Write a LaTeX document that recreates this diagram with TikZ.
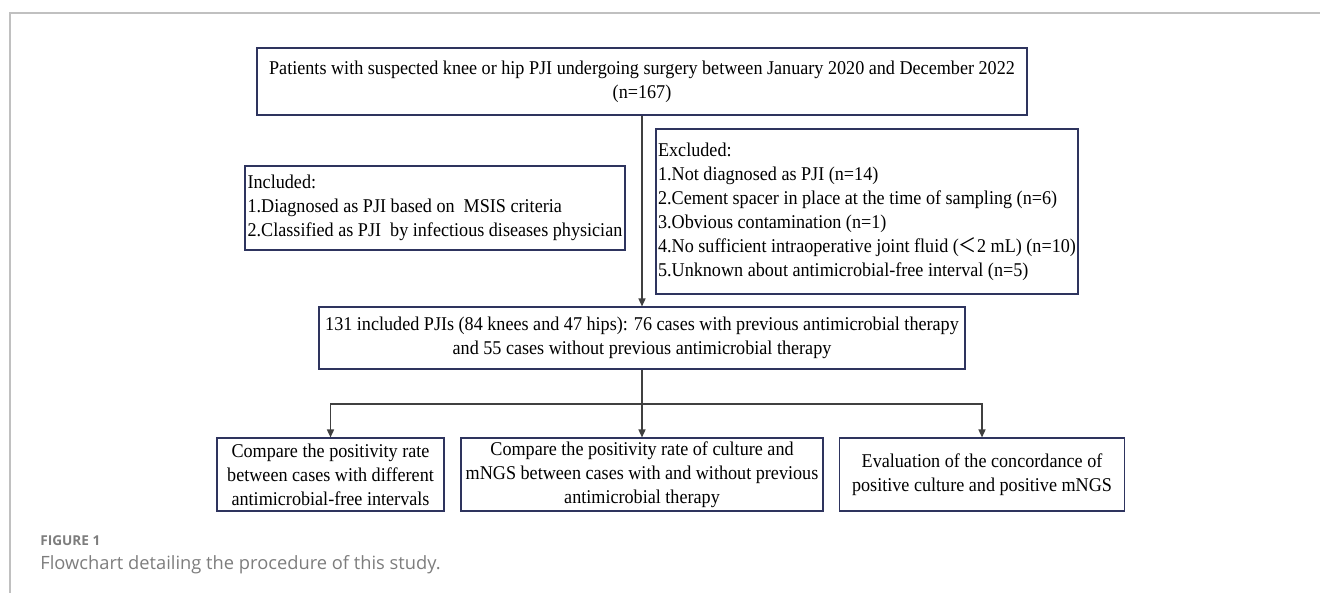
\documentclass[tikz,border=0pt]{standalone}
\usepackage{fontspec}
\setmainfont{Liberation Serif}[FakeStretch=0.93]
\newfontfamily\capfont{Open Sans}
\newfontfamily\cjk{Noto Sans CJK SC}[FakeStretch=0.93]
\usetikzlibrary{arrows.meta}
\definecolor{boxline}{RGB}{46,52,94}
\definecolor{linkgray}{RGB}{64,64,64}
\definecolor{framegray}{RGB}{192,192,192}
\definecolor{capgray}{RGB}{125,125,125}

\begin{document}
\begin{tikzpicture}[x=1pt,y=-1pt,
  main node/.style={draw=boxline,line width=0.55pt,inner sep=0pt,
    font=\fontsize{9.75}{12}\selectfont},
  link/.style={draw=linkgray,line width=0.75pt},
  tip/.style={link,-{Triangle[length=4pt,width=3.5pt]}}]

  \useasboundingbox (0,0) rectangle (660,296.5);
  \draw[framegray,line width=0.75pt] (5,296.5) -- (5,6.5) -- (660,6.5);

  \node[main node,align=center,minimum width=385pt,minimum height=33.5pt] (1) at (321,40.75)
    {Patients with suspected knee or hip PJI undergoing surgery between January 2020 and December 2022\\(n=167)};
  \node[main node,align=left,minimum width=190pt,minimum height=42pt] (2) at (217.5,104)
    {Included:\\1.Diagnosed as PJI based on\ \ MSIS criteria\\2.Classified as PJI\ \ by infectious diseases physician};
  \node[main node,align=left,minimum width=211pt,minimum height=82.5pt] (3) at (433.5,105.75)
    {Excluded:\\1.Not diagnosed as PJI (n=14)\\2.Cement spacer in place at the time of sampling (n=6)\\3.Obvious contamination (n=1)\\4.No sufficient intraoperative joint fluid ({\cjk ＜}2 mL) (n=10)\\5.Unknown about antimicrobial-free interval (n=5)};
  \node[main node,align=center,minimum width=323pt,minimum height=31pt] (4) at (321,169)
    {131 included PJIs (84 knees and 47 hips): 76 cases with previous antimicrobial therapy\\and 55 cases without previous antimicrobial therapy};
  \node[main node,align=center,minimum width=113.5pt,minimum height=36.5pt] (5) at (165.25,237.25)
    {Compare the positivity rate\\between cases with different\\antimicrobial-free intervals};
  \node[main node,align=center,minimum width=181pt,minimum height=36.5pt] (6) at (321,237.25)
    {Compare the positivity rate of culture and\\mNGS between cases with and without previous\\antimicrobial therapy};
  \node[main node,align=center,minimum width=142.5pt,minimum height=36.5pt] (7) at (491,237.25)
    {Evaluation of the concordance of\\positive culture and positive mNGS};

  \coordinate (split) at (321,202);
  \draw[tip] (1) -- (4);
  \draw[link] (4) -- (split);
  \path
   (split) edge[tip] (6)
   (split) edge[tip,to path={-| (\tikztotarget)}] (5)
   (split) edge[tip,to path={-| (\tikztotarget)}] (7);

  \node[anchor=base west,inner sep=0pt,text=capgray,font=\capfont\bfseries\fontsize{6.8}{8}\selectfont] (fig) at (20,272.5) {FIGURE 1};
  \node[anchor=base west,inner sep=0pt,text=capgray,font=\capfont\fontsize{9.15}{11}\selectfont] (cap) at (20,284.5) {Flowchart detailing the procedure of this study.};
\end{tikzpicture}
\end{document}
